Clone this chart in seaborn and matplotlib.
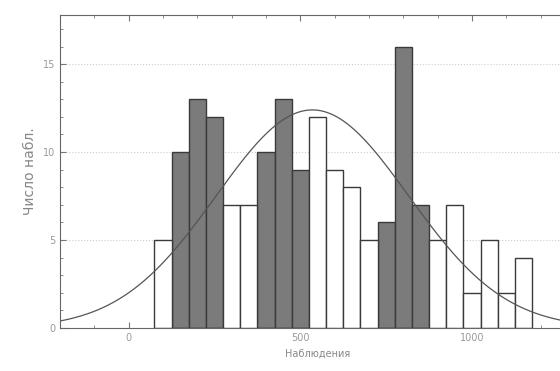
import numpy as np
import pandas as pd
import seaborn as sns
import matplotlib.pyplot as plt
from matplotlib.ticker import MultipleLocator

# Histogram counts, bins of width 50 starting at 75
bin_start = 75
bin_width = 50
counts = [5, 10, 13, 12, 7, 7, 10, 13, 9, 12, 9, 8, 5, 6, 16, 7, 5, 7, 2, 5, 2, 4]
shade = ['light', 'dark', 'dark', 'dark', 'light', 'light', 'dark', 'dark', 'dark',
         'light', 'light', 'light', 'light', 'dark', 'dark', 'dark', 'light', 'light',
         'light', 'light', 'light', 'light']

# Fitted normal curve
fit_mean = 535
fit_sd = 280

bin_end = bin_start + bin_width * len(counts)
df = pd.DataFrame({
    'x': bin_start + bin_width * (np.arange(len(counts)) + 0.5),
    'n': counts,
    'shade': shade,
})

sns.set_style('ticks')
fig = plt.figure(figsize=(5.6, 3.71), dpi=100)
ax = fig.add_axes([0.107, 0.116, 0.92, 0.844])

sns.histplot(data=df, x='x', weights='n', hue='shade',
             binwidth=bin_width, binrange=(bin_start, bin_end),
             palette={'dark': '#7b7b7b', 'light': 'white'}, alpha=1,
             edgecolor='#3a3a3a', linewidth=1.0, multiple='layer',
             legend=False, ax=ax)

xs = np.linspace(-200, 1300, 300)
ys = sum(counts) * bin_width / (fit_sd * np.sqrt(2 * np.pi)) * np.exp(-0.5 * ((xs - fit_mean) / fit_sd) ** 2)
sns.lineplot(x=xs, y=ys, color='#555555', linewidth=0.9, ax=ax)

ax.set_xlim(-200, 1300)
ax.set_ylim(0, 17.8)
ax.xaxis.set_major_locator(MultipleLocator(500))
ax.xaxis.set_minor_locator(MultipleLocator(100))
ax.yaxis.set_major_locator(MultipleLocator(5))
ax.yaxis.set_minor_locator(MultipleLocator(1))
ax.tick_params(which='both', direction='in', top=True, colors='#777777',
               labelcolor='#999999', labelsize=7)
ax.tick_params(which='major', length=4)
ax.tick_params(which='minor', length=2)
ax.yaxis.grid(True, linestyle=':', color='#cccccc', linewidth=0.8)
ax.set_axisbelow(True)
for side in ['left', 'bottom', 'top']:
    ax.spines[side].set_color('#666666')
ax.spines['right'].set_visible(False)

ax.set_xlabel('Наблюдения', color='#888888', fontsize=7)
ax.set_ylabel('Число набл.', color='#888888', fontsize=10)

fig.savefig('out.png', dpi=100)
